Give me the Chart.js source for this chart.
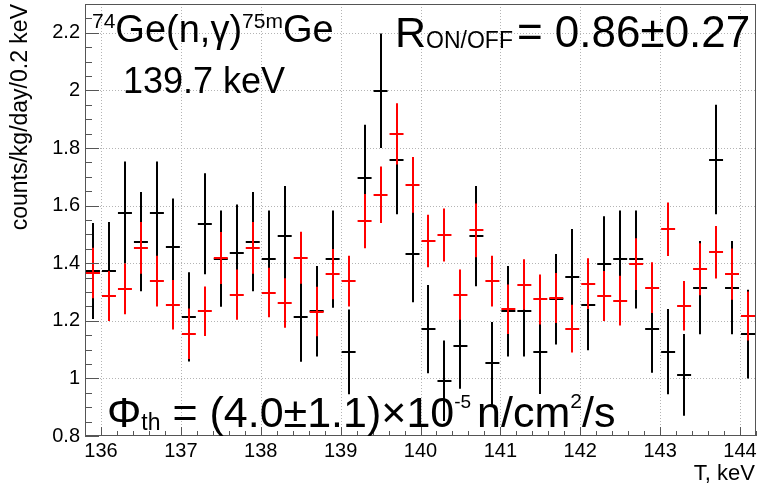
<!DOCTYPE html>
<html>
<head>
<meta charset="utf-8">
<script src="https://cdn.jsdelivr.net/npm/chart.js@4/dist/chart.umd.min.js"></script>
<style>
  html, body { margin: 0; padding: 0; background: #fff; }
  #wrap { width: 757px; height: 485px; }
</style>
</head>
<body>
<div id="wrap"><canvas id="c" width="757" height="485"></canvas></div>
<script>
// Bin centres of the energy spectrum, keV (0.2 keV bins)
const binCenters = [
  135.9, 136.1, 136.3, 136.5, 136.7, 136.9, 137.1, 137.3, 137.5, 137.7,
  137.9, 138.1, 138.3, 138.5, 138.7, 138.9, 139.1, 139.3, 139.5, 139.7,
  139.9, 140.1, 140.3, 140.5, 140.7, 140.9, 141.1, 141.3, 141.5, 141.7,
  141.9, 142.1, 142.3, 142.5, 142.7, 142.9, 143.1, 143.3, 143.5, 143.7,
  143.9, 144.1
];
const binHalfWidth = 0.1;

// ON spectrum (black), counts/kg/day/0.2 keV, with its statistical errors
const rateOn = [
  1.373, 1.373, 1.576, 1.475, 1.576, 1.455, 1.214, 1.537, 1.416, 1.434,
  1.475, 1.414, 1.493, 1.214, 1.233, 1.414, 1.092, 1.697, 1.999, 1.757,
  1.433, 1.171, 0.992, 1.112, 1.494, 1.052, 1.233, 1.233, 1.092, 1.275,
  1.353, 1.255, 1.397, 1.413, 1.413, 1.173, 1.093, 1.012, 1.315, 1.760,
  1.315, 1.154
];
const errOn = [
  0.167, 0.170, 0.177, 0.172, 0.177, 0.170, 0.155, 0.175, 0.167, 0.170,
  0.172, 0.169, 0.175, 0.156, 0.157, 0.169, 0.147, 0.184, 0.199, 0.187,
  0.169, 0.153, 0.140, 0.148, 0.174, 0.144, 0.157, 0.157, 0.146, 0.157,
  0.166, 0.157, 0.166, 0.170, 0.170, 0.153, 0.148, 0.142, 0.162, 0.190,
  0.162, 0.154
];

// OFF spectrum (red), same units
const rateOff = [
  1.366, 1.286, 1.311, 1.453, 1.338, 1.256, 1.155, 1.233, 1.418, 1.291,
  1.453, 1.298, 1.262, 1.419, 1.232, 1.362, 1.338, 1.546, 1.638, 1.849,
  1.672, 1.477, 1.498, 1.291, 1.514, 1.338, 1.240, 1.326, 1.274, 1.279,
  1.173, 1.329, 1.286, 1.270, 1.397, 1.315, 1.518, 1.252, 1.379, 1.438,
  1.362, 1.217
];
const errOff = [
  0.088, 0.087, 0.088, 0.090, 0.088, 0.086, 0.088, 0.086, 0.090, 0.087,
  0.090, 0.086, 0.086, 0.090, 0.086, 0.087, 0.088, 0.094, 0.098, 0.106,
  0.097, 0.091, 0.092, 0.087, 0.093, 0.088, 0.086, 0.088, 0.087, 0.087,
  0.083, 0.088, 0.087, 0.086, 0.090, 0.088, 0.093, 0.086, 0.090, 0.091,
  0.089, 0.085
];

// Axis ranges and labelled ticks
const xRange = [135.8, 144.2];
const yRange = [0.8, 2.3];
const xTickLabels = [136, 137, 138, 139, 140, 141, 142, 143, 144];
const yTickLabels = [0.8, 1, 1.2, 1.4, 1.6, 1.8, 2, 2.2];
const xMinorStep = 0.2;
const yMinorStep = 0.05;

const FONT = '"Liberation Sans", Arial, Helvetica, sans-serif';
const AXIS_COLOR = '#555';
const GRID_COLOR = '#b4b4b4';

function toPoints(xs, ys, es) {
  return xs.map((x, i) => ({ x: x, y: ys[i], xe: binHalfWidth, ye: es[i] }));
}

function drawRuns(ctx, x, runs) {
  let cx = x;
  for (const r of runs) {
    ctx.font = r.size + 'px ' + FONT;
    ctx.fillText(r.text, cx + (r.dx || 0), r.y);
    cx += ctx.measureText(r.text).width + (r.dx || 0);
  }
}

// ROOT-style frame: dotted grid, inward ticks, error-bar crosses, labels
const rootStyle = {
  id: 'rootStyle',
  beforeDatasetsDraw(chart) {
    const { ctx, chartArea: a, scales: { x, y } } = chart;
    ctx.save();
    ctx.strokeStyle = GRID_COLOR;
    ctx.lineWidth = 1;
    ctx.setLineDash([1, 2]);
    for (const v of xTickLabels) {
      const px = Math.round(x.getPixelForValue(v)) + 0.5;
      ctx.beginPath(); ctx.moveTo(px, a.top); ctx.lineTo(px, a.bottom); ctx.stroke();
    }
    for (const v of yTickLabels) {
      if (v <= yRange[0]) continue;
      const py = Math.round(y.getPixelForValue(v)) + 0.5;
      ctx.beginPath(); ctx.moveTo(a.left, py); ctx.lineTo(a.right, py); ctx.stroke();
    }
    ctx.restore();
  },
  afterDatasetsDraw(chart) {
    const { ctx, chartArea: a, scales: { x, y } } = chart;
    ctx.save();
    ctx.beginPath();
    ctx.rect(a.left, a.top, a.right - a.left, a.bottom - a.top);
    ctx.clip();
    chart.data.datasets.forEach((ds) => {
      ctx.strokeStyle = ds.borderColor;
      ctx.lineWidth = 2;
      ctx.lineCap = 'butt';
      for (const p of ds.data) {
        const cx = Math.round(x.getPixelForValue(p.x));
        const cy = Math.round(y.getPixelForValue(p.y));
        const x0 = x.getPixelForValue(p.x - p.xe) + 1;
        const x1 = x.getPixelForValue(p.x + p.xe) - 1;
        const y0 = y.getPixelForValue(p.y + p.ye);
        const y1 = y.getPixelForValue(p.y - p.ye);
        ctx.beginPath();
        ctx.moveTo(cx, y0); ctx.lineTo(cx, y1);
        ctx.moveTo(x0, cy); ctx.lineTo(x1, cy);
        ctx.stroke();
      }
    });
    ctx.restore();

    ctx.save();
    // frame
    ctx.strokeStyle = AXIS_COLOR;
    ctx.lineWidth = 1;
    ctx.strokeRect(a.left + 0.5, a.top + 0.5, a.right - a.left - 1, a.bottom - a.top - 1);

    // y ticks (inward on the left axis)
    ctx.beginPath();
    for (let v = yRange[0]; v <= yRange[1] + 1e-9; v += yMinorStep) {
      const vv = Math.round(v * 100) / 100;
      const py = Math.round(y.getPixelForValue(vv)) + 0.5;
      const major = Math.abs(vv * 5 - Math.round(vv * 5)) < 1e-6;
      ctx.moveTo(a.left, py); ctx.lineTo(a.left + (major ? 14 : 7), py);
    }
    // x ticks (inward on the bottom axis)
    for (let v = xRange[0]; v <= xRange[1] + 1e-9; v += xMinorStep) {
      const vv = Math.round(v * 10) / 10;
      const px = Math.round(x.getPixelForValue(vv)) + 0.5;
      const major = Math.abs(vv - Math.round(vv)) < 1e-6;
      ctx.moveTo(px, a.bottom); ctx.lineTo(px, a.bottom - (major ? 9 : 5));
    }
    ctx.stroke();

    // tick labels
    ctx.fillStyle = '#000';
    ctx.font = '20px ' + FONT;
    ctx.textAlign = 'right';
    ctx.textBaseline = 'middle';
    for (const v of yTickLabels) {
      ctx.fillText(String(v), a.left - 5, y.getPixelForValue(v));
    }
    ctx.textAlign = 'center';
    ctx.textBaseline = 'alphabetic';
    for (const v of xTickLabels) {
      ctx.fillText(String(v), x.getPixelForValue(v), 457);
    }

    // axis titles
    ctx.font = '22px ' + FONT;
    ctx.textAlign = 'right';
    ctx.fillText('T, keV', 755, 480);
    ctx.save();
    ctx.translate(27, 4);
    ctx.rotate(-Math.PI / 2);
    ctx.font = '23px ' + FONT;
    ctx.textAlign = 'right';
    ctx.fillText('counts/kg/day/0.2 keV', 0, 0);
    ctx.restore();

    // annotations
    ctx.textAlign = 'left';
    drawRuns(ctx, 92, [
      { text: '74', size: 21, y: 28 },
      { text: 'Ge(n,γ)', size: 38, y: 42 },
      { text: '75m', size: 21, y: 28 },
      { text: 'Ge', size: 38, y: 42 }
    ]);
    drawRuns(ctx, 123, [{ text: '139.7 keV', size: 36, y: 93 }]);
    drawRuns(ctx, 395, [
      { text: 'R', size: 43, y: 47 },
      { text: 'ON/OFF', size: 23, y: 48 },
      { text: '= 0.86±0.27', size: 44, y: 47, dx: 4 }
    ]);
    drawRuns(ctx, 107, [
      { text: 'Φ', size: 43, y: 427 },
      { text: 'th', size: 23, y: 430 },
      { text: ' = (4.0±1.1)×10', size: 43, y: 427 },
      { text: '-5', size: 19, y: 408 },
      { text: 'n/cm', size: 43, y: 427, dx: 6 },
      { text: '2', size: 21, y: 408 },
      { text: '/s', size: 43, y: 427 }
    ]);
    ctx.restore();
  }
};

new Chart(document.getElementById('c'), {
  type: 'scatter',
  data: {
    datasets: [
      { label: 'ON', data: toPoints(binCenters, rateOn, errOn), borderColor: '#000000', backgroundColor: '#000000', pointRadius: 0, showLine: false },
      { label: 'OFF', data: toPoints(binCenters, rateOff, errOff), borderColor: '#ff0000', backgroundColor: '#ff0000', pointRadius: 0, showLine: false }
    ]
  },
  options: {
    responsive: false,
    animation: false,
    events: [],
    layout: { padding: { left: 85, right: 1, top: 4, bottom: 49 } },
    plugins: { legend: { display: false }, tooltip: { enabled: false }, title: { display: false } },
    scales: {
      x: { type: 'linear', min: xRange[0], max: xRange[1], display: false },
      y: { type: 'linear', min: yRange[0], max: yRange[1], display: false }
    }
  },
  plugins: [rootStyle]
});
</script>
</body>
</html>
